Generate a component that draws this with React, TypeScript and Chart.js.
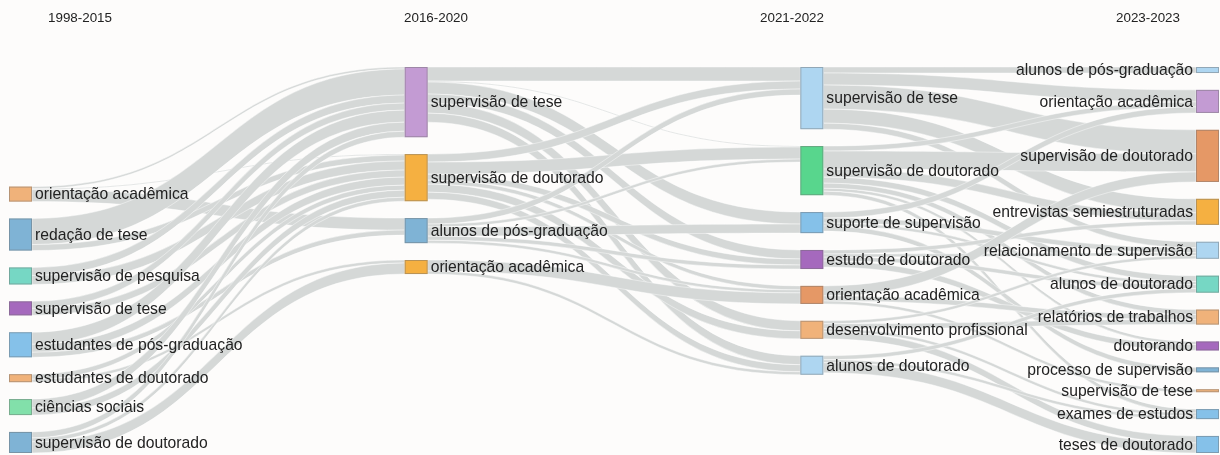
import React, { useEffect, useRef } from 'react';
import { Chart, registerables } from 'chart.js';

Chart.register(...registerables);

// ---------- data ----------
const COLUMN_LABELS = ['1998-2015', '2016-2020', '2021-2022', '2023-2023'];

const NODE_LABELS = [
  // 1998-2015
  'orientação acadêmica',
  'redação de tese',
  'supervisão de pesquisa',
  'supervisão de tese',
  'estudantes de pós-graduação',
  'estudantes de doutorado',
  'ciências sociais',
  'supervisão de doutorado',
  // 2016-2020
  'supervisão de tese',
  'supervisão de doutorado',
  'alunos de pós-graduação',
  'orientação acadêmica',
  // 2021-2022
  'supervisão de tese',
  'supervisão de doutorado',
  'suporte de supervisão',
  'estudo de doutorado',
  'orientação acadêmica',
  'desenvolvimento profissional',
  'alunos de doutorado',
  // 2023-2023
  'alunos de pós-graduação',
  'orientação acadêmica',
  'supervisão de doutorado',
  'entrevistas semiestruturadas',
  'relacionamento de supervisão',
  'alunos de doutorado',
  'relatórios de trabalhos',
  'doutorando',
  'processo de supervisão',
  'supervisão de tese',
  'exames de estudos',
  'teses de doutorado',
];

const NODE_COLUMNS = [
  0, 0, 0, 0, 0, 0, 0, 0,
  1, 1, 1, 1,
  2, 2, 2, 2, 2, 2, 2,
  3, 3, 3, 3, 3, 3, 3, 3, 3, 3, 3, 3,
];

const LINK_SOURCES = [
  0, 0, 0,
  1, 1,
  2, 2,
  3, 3,
  4, 4, 4,
  5, 5,
  6, 6,
  7, 7, 7,
  8, 8, 8, 8, 8, 8,
  9, 9, 9, 9, 9, 9,
  10, 10, 10, 10, 10,
  11, 11,
  12, 12, 12, 12, 12,
  13, 13, 13, 13, 13, 13, 13,
  14, 14, 14, 14,
  15, 15, 15, 15,
  16, 16, 16,
  17, 17, 17, 17,
  18, 18, 18,
];

const LINK_TARGETS = [
  8, 9, 10,
  8, 9,
  8, 9,
  8, 9,
  8, 9, 10,
  9, 11,
  8, 9,
  8, 9, 11,
  12, 13, 14, 15, 17, 18,
  12, 13, 15, 16, 17, 18,
  12, 13, 14, 16, 15,
  16, 18,
  19, 20, 21, 22, 23,
  20, 21, 22, 24, 26, 29, 25,
  20, 23, 24, 27,
  22, 24, 26, 23,
  21, 25, 28,
  23, 25, 29, 30,
  24, 29, 30,
];

const LINK_VALUES = [
  2, 1, 12,
  26, 6,
  8, 9,
  7, 7,
  12, 8, 5,
  5, 3,
  9, 7,
  6, 4, 11,
  14, 1, 12, 9, 10, 9,
  8, 12, 6, 4, 8, 7,
  6, 3, 9, 3, 4,
  11, 3,
  6, 12, 24, 14, 6,
  5, 18, 8, 6, 3, 4, 5,
  6, 5, 3, 5,
  4, 4, 6, 3,
  10, 5, 3,
  3, 5, 3, 7,
  4, 3, 10,
];

// ---------- styles ----------
const NODE_COLORS = [
  '#f0b27a', '#7fb3d5', '#76d7c4', '#a569bd', '#85c1e9', '#f0b27a', '#82e0aa', '#7fb3d5',
  '#c39bd3', '#f5b041', '#7fb3d5', '#f5b041',
  '#aed6f1', '#58d68d', '#85c1e9', '#a569bd', '#e59866', '#f0b27a', '#aed6f1',
  '#aed6f1', '#c39bd3', '#e59866', '#f5b041', '#aed6f1', '#76d7c4', '#f0b27a', '#a569bd',
  '#7fb3d5', '#f0b27a', '#85c1e9', '#85c1e9',
];
const COLUMN_ALIGN = ['bottom', 'top', 'top', 'top'];
const NODE_PADDING = 16.8;
const NODE_WIDTH = 23;
const LINK_COLOR = 'rgb(213,216,215)';
const BACKGROUND = '#fdfcfb';
const FONT_FAMILY = "'Liberation Sans', Arial, sans-serif";
const LABEL_FONT = `15.7px ${FONT_FAMILY}`;
const HEADER_FONT = `13.4px ${FONT_FAMILY}`;
const TEXT_COLOR = '#222222';
const HEADER_Y = 18;
const HEADER_INSET = 71;

type LinkL = { s: number; t: number; v: number; sy: number; ty: number };

function computeLayout() {
  const n = NODE_LABELS.length;
  const inSum = new Array(n).fill(0);
  const outSum = new Array(n).fill(0);
  LINK_VALUES.forEach((v, i) => {
    outSum[LINK_SOURCES[i]] += v;
    inSum[LINK_TARGETS[i]] += v;
  });
  const value = inSum.map((v, i) => Math.max(v, outSum[i]));
  const columns: number[][] = COLUMN_LABELS.map((_, c) =>
    NODE_COLUMNS.map((col, i) => (col === c ? i : -1)).filter((i) => i >= 0)
  );
  const extents = columns.map(
    (col) => col.reduce((a, i) => a + value[i], 0) + (col.length - 1) * NODE_PADDING
  );
  const axisMax = Math.max(...extents);
  const y0 = new Array(n).fill(0);
  columns.forEach((col, c) => {
    let y = COLUMN_ALIGN[c] === 'bottom' ? axisMax - extents[c] : 0;
    col.forEach((i) => {
      y0[i] = y;
      y += value[i] + NODE_PADDING;
    });
  });
  const links: LinkL[] = LINK_VALUES.map((v, i) => ({
    s: LINK_SOURCES[i],
    t: LINK_TARGETS[i],
    v,
    sy: 0,
    ty: 0,
  }));
  for (let i = 0; i < n; i++) {
    const outs = links.filter((l) => l.s === i).sort((a, b) => y0[a.t] - y0[b.t]);
    let sy = y0[i];
    outs.forEach((l) => {
      l.sy = sy;
      sy += l.v;
    });
    const ins = links.filter((l) => l.t === i).sort((a, b) => y0[a.s] - y0[b.s]);
    let ty = y0[i];
    ins.forEach((l) => {
      l.ty = ty;
      ty += l.v;
    });
  }
  return { value, y0, links, axisMax };
}

export default function App() {
  const canvasRef = useRef<HTMLCanvasElement | null>(null);

  useEffect(() => {
    if (!canvasRef.current) return;
    const L = computeLayout();
    const lastCol = COLUMN_LABELS.length - 1;

    const sankeyPlugin = {
      id: 'sankeyDraw',
      beforeDraw(chart: any) {
        const { ctx, width, height } = chart;
        ctx.save();
        ctx.fillStyle = BACKGROUND;
        ctx.fillRect(0, 0, width, height);
        ctx.restore();
      },
      beforeDatasetsDraw(chart: any) {
        const { ctx, chartArea } = chart;
        const xs = chart.scales.x;
        const ys = chart.scales.y;
        ctx.save();
        // headers
        ctx.font = HEADER_FONT;
        ctx.fillStyle = TEXT_COLOR;
        ctx.textAlign = 'center';
        ctx.textBaseline = 'middle';
        const hLeft = chartArea.left + HEADER_INSET;
        const hRight = chartArea.right + NODE_WIDTH - HEADER_INSET;
        COLUMN_LABELS.forEach((lab, c) => {
          const hx = hLeft + (c * (hRight - hLeft)) / lastCol;
          ctx.fillText(lab, hx, HEADER_Y);
        });
        // links
        L.links.forEach((l) => {
          const x0 = xs.getPixelForValue(NODE_COLUMNS[l.s]) + NODE_WIDTH;
          const x1 = xs.getPixelForValue(NODE_COLUMNS[l.t]);
          const xm = (x0 + x1) / 2;
          const sTop = ys.getPixelForValue(l.sy);
          const sBot = ys.getPixelForValue(l.sy + l.v);
          const tTop = ys.getPixelForValue(l.ty);
          const tBot = ys.getPixelForValue(l.ty + l.v);
          ctx.beginPath();
          ctx.moveTo(x0, sTop);
          ctx.bezierCurveTo(xm, sTop, xm, tTop, x1, tTop);
          ctx.lineTo(x1, tBot);
          ctx.bezierCurveTo(xm, tBot, xm, sBot, x0, sBot);
          ctx.closePath();
          ctx.fillStyle = LINK_COLOR;
          ctx.fill();
          ctx.strokeStyle = 'rgba(255,255,255,0.55)';
          ctx.lineWidth = 0.8;
          ctx.stroke();
        });
        // nodes
        NODE_LABELS.forEach((_, i) => {
          const x = xs.getPixelForValue(NODE_COLUMNS[i]);
          const top = ys.getPixelForValue(L.y0[i]);
          const bot = ys.getPixelForValue(L.y0[i] + L.value[i]);
          ctx.fillStyle = NODE_COLORS[i];
          ctx.fillRect(x, top, NODE_WIDTH, bot - top);
          ctx.strokeStyle = 'rgba(110,110,110,0.45)';
          ctx.lineWidth = 1;
          ctx.strokeRect(x + 0.5, top + 0.5, NODE_WIDTH - 1, Math.max(bot - top - 1, 0.5));
        });
        // labels
        ctx.font = LABEL_FONT;
        ctx.fillStyle = TEXT_COLOR;
        ctx.textBaseline = 'middle';
        NODE_LABELS.forEach((lab, i) => {
          const c = NODE_COLUMNS[i];
          const x = xs.getPixelForValue(c);
          const mid = ys.getPixelForValue(L.y0[i] + L.value[i] / 2);
          if (c === lastCol) {
            ctx.textAlign = 'right';
            ctx.fillText(lab, x - 3, mid + 1);
          } else {
            ctx.textAlign = 'left';
            ctx.fillText(lab, x + NODE_WIDTH + 3, mid + 1);
          }
        });
        ctx.restore();
      },
    };

    const points = NODE_LABELS.map((_, i) => ({
      x: NODE_COLUMNS[i],
      y: L.y0[i] + L.value[i] / 2,
    }));

    const chart = new Chart(canvasRef.current, {
      type: 'scatter',
      data: {
        datasets: [
          {
            label: 'nós',
            data: points,
            pointRadius: 0,
            pointHoverRadius: 0,
            backgroundColor: 'rgba(0,0,0,0)',
          },
        ],
      },
      options: {
        animation: false,
        responsive: false,
        events: [],
        layout: { padding: { left: 9, right: 24, top: 67, bottom: 2 } },
        scales: {
          x: { type: 'linear', min: 0, max: lastCol, display: false },
          y: { type: 'linear', min: 0, max: L.axisMax, reverse: true, display: false },
        },
        plugins: {
          legend: { display: false },
          tooltip: { enabled: false },
          title: { display: false },
        },
      },
      plugins: [sankeyPlugin],
    });
    return () => chart.destroy();
  }, []);

  return (
    <div
      style={{
        position: 'fixed',
        left: 0,
        top: 0,
        width: 1220,
        height: 455,
        background: BACKGROUND,
      }}
    >
      <canvas ref={canvasRef} width={1220} height={455} style={{ display: 'block' }} />
    </div>
  );
}
